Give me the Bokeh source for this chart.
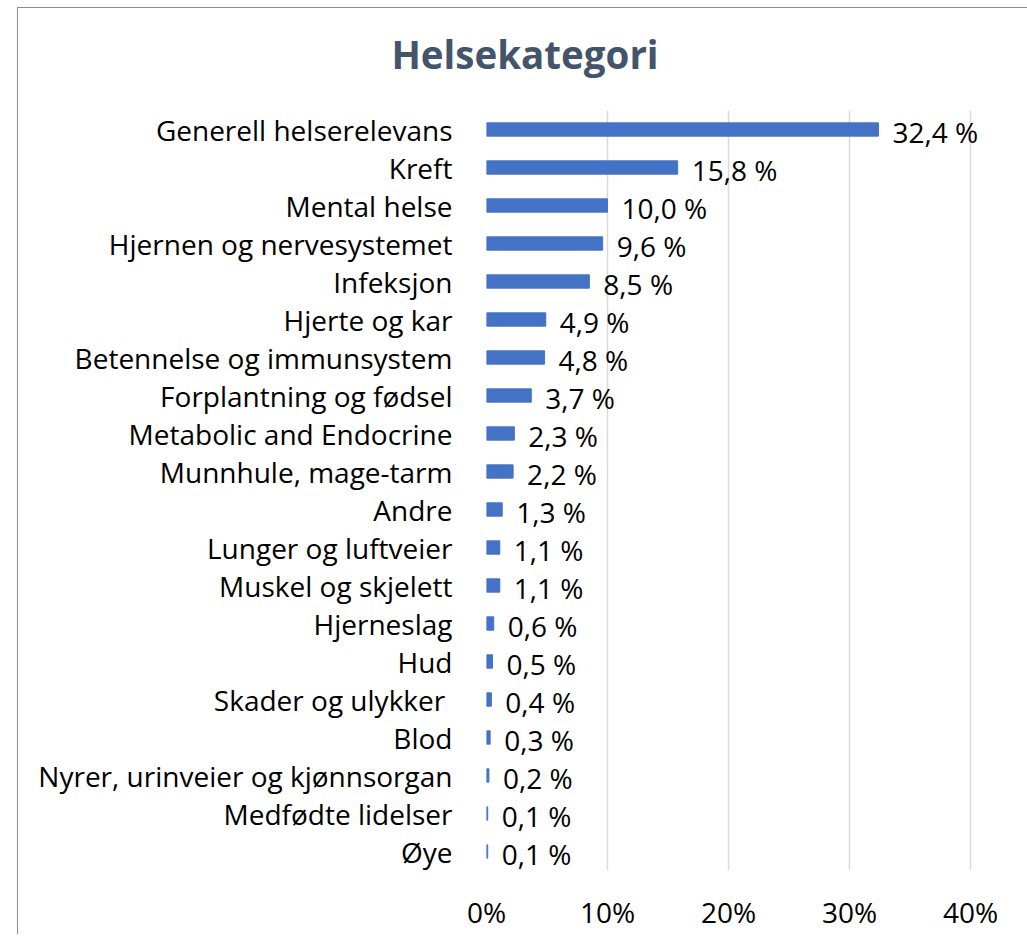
from bokeh.plotting import figure
from bokeh.models import FactorRange, Range1d, FixedTicker, PrintfTickFormatter, ColumnDataSource, Div, Spacer
from bokeh.layouts import column, row
from bokeh.core.properties import value
from bokeh.embed import file_html
from bokeh.resources import INLINE

title_text = "Helsekategori"
categories = [
    "Generell helserelevans", "Kreft", "Mental helse", "Hjernen og nervesystemet",
    "Infeksjon", "Hjerte og kar", "Betennelse og immunsystem", "Forplantning og fødsel",
    "Metabolic and Endocrine", "Munnhule, mage-tarm", "Andre", "Lunger og luftveier",
    "Muskel og skjelett", "Hjerneslag", "Hud", "Skader og ulykker ", "Blod",
    "Nyrer, urinveier og kjønnsorgan", "Medfødte lidelser", "Øye",
]
values = [32.4, 15.8, 10.0, 9.6, 8.5, 4.9, 4.8, 3.7, 2.3, 2.2, 1.3, 1.1, 1.1,
          0.6, 0.5, 0.4, 0.3, 0.2, 0.1, 0.1]
x_ticks = [0, 10, 20, 30, 40]

labels = [f"{v:.1f} %".replace(".", ",") for v in values]
src = ColumnDataSource(dict(cat=categories, val=values, lab=labels))

FONT = "Open Sans"
FS = "28px"
W = 1004
TITLE_H = 90

title = Div(
    text=f'<div style="width:{W}px;text-align:center;font-family:\'{FONT}\';font-weight:bold;'
         f'font-size:38.5px;line-height:46px;color:#44546A;padding-top:18px">{title_text}</div>',
    width=W, height=TITLE_H,
)

p = figure(
    width=W, height=826,
    y_range=FactorRange(factors=list(reversed(categories))),
    x_range=Range1d(0, 42.48),
    output_backend="svg", toolbar_location=None,
    min_border_left=468, min_border_right=22, min_border_top=2, min_border_bottom=64,
)
p.outline_line_color = None

p.hbar(y="cat", right="val", left=0, height=0.35, color="#4472C4", source=src)
p.text(x="val", y="cat", text="lab", source=src, x_offset=14, y_offset=2,
       text_baseline="middle", text_align="left", text_font=value(FONT),
       text_font_size=FS, text_color="#000000")

p.xaxis.ticker = FixedTicker(ticks=x_ticks)
p.xaxis.formatter = PrintfTickFormatter(format="%d%%")
p.xaxis.axis_line_color = None
p.xaxis.major_tick_line_color = None
p.xaxis.minor_tick_line_color = None
p.xaxis.major_label_standoff = 16
p.xaxis.major_label_text_font = FONT
p.xaxis.major_label_text_font_size = FS
p.xaxis.major_label_text_color = "#000000"

p.yaxis.axis_line_color = None
p.yaxis.major_tick_line_color = None
p.yaxis.minor_tick_line_color = None
p.yaxis.major_label_standoff = 28
p.yaxis.major_label_text_font = FONT
p.yaxis.major_label_text_font_size = FS
p.yaxis.major_label_text_color = "#000000"

p.ygrid.grid_line_color = None
p.xgrid.grid_line_color = "#d9d9d9"
p.xgrid.grid_line_width = 1.5

chart = column(title, p, spacing=0,
               styles={"border": "1.5px solid #8c8c8c", "border-bottom": "none"})
layout = column(Spacer(width=10, height=7),
                row(Spacer(width=17, height=10), chart, spacing=0),
                spacing=0)

open("out.html", "w").write(file_html(layout, INLINE))
